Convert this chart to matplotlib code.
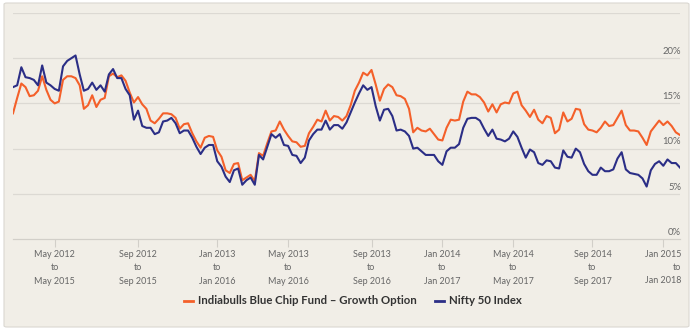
import matplotlib.pyplot as plt
from matplotlib.patches import FancyBboxPatch
from matplotlib.lines import Line2D

plt.rcParams["font.family"] = ["Lato", "DejaVu Sans"]

# rolling 3-year returns (%), one point per step along the axis
fund = [
    13.9, 15.6, 17.2, 16.8, 15.8, 15.9, 16.4, 18.0, 16.5, 15.4,
    15.0, 15.2, 17.6, 18.0, 18.0, 17.8, 17.0, 14.4, 14.8, 15.9,
    14.6, 15.4, 15.6, 18.0, 18.3, 17.9, 18.1, 17.5, 16.2, 15.1,
    15.7, 14.9, 14.4, 13.1, 12.8, 13.3, 13.9, 13.9, 13.8, 13.4,
    12.2, 12.7, 12.8, 11.7, 10.8, 10.1, 11.2, 11.4, 11.3, 9.8,
    9.1, 7.6, 7.3, 8.3, 8.4, 6.5, 6.8, 7.1, 6.4, 9.5,
    9.2, 10.6, 11.9, 12.0, 13.0, 12.1, 11.4, 10.8, 10.7, 10.2,
    10.3, 11.7, 12.4, 13.2, 13.0, 14.2, 13.1, 13.6, 13.5, 13.1,
    13.6, 14.8, 16.4, 17.3, 18.4, 18.1, 18.7, 17.1, 15.3, 16.6,
    17.1, 16.8, 15.9, 15.8, 15.5, 14.4, 11.8, 12.3, 12.0, 11.9,
    12.2, 11.6, 11.0, 10.9, 12.3, 13.2, 13.1, 13.2, 15.2, 16.3,
    16.0, 16.0, 15.7, 15.1, 14.1, 14.9, 14.0, 14.9, 15.1, 15.0,
    16.1, 16.3, 14.8, 14.2, 13.5, 14.3, 13.2, 12.8, 13.6, 13.4,
    11.7, 12.1, 14.0, 13.0, 13.3, 14.4, 14.3, 12.7, 12.1, 12.0,
    11.8, 12.3, 13.0, 12.5, 12.6, 13.4, 14.2, 12.6, 12.0, 12.0,
    11.9, 11.2, 10.4, 11.9, 12.5, 13.1, 12.6, 13.0, 12.5, 11.8,
    11.5,
]
nifty = [
    16.8, 17.0, 19.0, 17.9, 17.8, 17.6, 17.0, 19.2, 17.3, 17.0,
    16.6, 16.4, 19.1, 19.7, 20.0, 20.3, 18.2, 16.4, 16.6, 17.3,
    16.5, 17.0, 16.3, 18.2, 18.8, 17.8, 17.8, 16.6, 15.9, 13.2,
    14.2, 12.5, 12.3, 12.3, 11.6, 11.8, 13.0, 13.1, 13.4, 12.8,
    11.7, 12.0, 12.0, 11.2, 10.2, 9.4, 10.1, 10.4, 10.4, 8.6,
    8.0, 6.9, 6.3, 7.6, 7.8, 6.0, 6.5, 6.8, 6.0, 9.3,
    8.8, 10.2, 11.6, 11.2, 11.6, 10.4, 10.3, 9.3, 9.2, 8.4,
    9.0, 10.9, 11.6, 12.1, 12.1, 13.1, 12.1, 12.6, 12.6, 12.2,
    12.9, 14.0, 15.1, 16.1, 17.0, 16.5, 16.8, 14.7, 13.1, 14.3,
    14.4, 13.6, 12.0, 12.1, 11.9, 11.4, 10.0, 10.1, 9.7, 9.3,
    9.3, 9.3, 8.6, 8.2, 9.7, 10.1, 10.1, 10.5, 12.3, 13.3,
    13.4, 13.4, 13.1, 12.2, 11.4, 12.1, 11.1, 11.0, 10.8, 11.1,
    11.9, 11.3, 10.1, 9.0, 9.9, 9.6, 8.4, 8.2, 8.7, 8.6,
    7.9, 7.8, 9.8, 9.1, 9.0, 10.0, 9.6, 8.3, 7.5, 7.1,
    7.1, 7.9, 7.5, 7.5, 7.7, 8.9, 9.6, 7.7, 7.3, 7.2,
    7.1, 6.7, 5.8, 7.6, 8.3, 8.6, 8.1, 8.8, 8.4, 8.4,
    7.9,
]

tick_pos = [10, 30, 49, 66, 86, 103, 120, 139, 156]
period_start = ["May 2012", "Sep 2012", "Jan 2013", "May 2013", "Sep 2013",
                "Jan 2014", "May 2014", "Sep 2014", "Jan 2015"]
period_end = ["May 2015", "Sep 2015", "Jan 2016", "May 2016", "Sep 2016",
              "Jan 2017", "May 2017", "Sep 2017", "Jan 2018"]
y_ticks = [0, 5, 10, 15, 20]

fund_name = "Indiabulls Blue Chip Fund \u2013 Growth Option"
index_name = "Nifty 50 Index"
orange = "#f4602a"
navy = "#2b2e86"
bg = "#f1eee7"
label_grey = "#666666"

W, H = 695, 332
fig = plt.figure(figsize=(W / 100, H / 100), dpi=100, facecolor="white")

# panel behind the chart
panel = FancyBboxPatch((4 / W, 1 - 327 / H), 685 / W, 324 / H,
                       boxstyle="round,pad=0,rounding_size=0.004",
                       transform=fig.transFigure, facecolor=bg,
                       edgecolor="#dad7d1", linewidth=0.8, zorder=-5)
fig.patches.append(panel)

ax = fig.add_axes([13 / W, 1 - 239 / H, 667 / W, 226 / H])
ax.set_facecolor("none")
x = list(range(len(fund)))
ax.plot(x, fund, color=orange, lw=1.5, zorder=3)
ax.plot(x, nifty, color=navy, lw=1.5, zorder=4)

ax.set_xlim(0, len(fund) - 1)
ax.set_ylim(0, 25)
for v in [5, 10, 15, 20, 25]:
    ax.axhline(v, color="#dcd9d3", lw=0.9, zorder=1)
for s in ["top", "right", "left"]:
    ax.spines[s].set_visible(False)
ax.spines["bottom"].set_color("#d2cfc9")
ax.spines["bottom"].set_linewidth(0.9)

ax.set_yticks([])
for v in y_ticks:
    ax.text(1.0015, v + 0.25, f"{v}%", transform=ax.get_yaxis_transform(),
            ha="right", va="bottom", fontsize=6.8, color=label_grey, zorder=5)

# period labels under the ticks; the last one is pushed left to fit
labels = [f"{a}\nto\n{b}" for a, b in zip(period_start, period_end)]
ax.set_xticks(tick_pos)
ax.set_xticklabels(labels[:-1] + [""], fontsize=6.5, color=label_grey,
                   linespacing=1.6)
ax.tick_params(axis="x", length=6, width=0.8, color="#d2cfc9", pad=2)
ax.annotate(labels[-1], xy=(tick_pos[-1], 0), xycoords=("data", "axes fraction"),
            xytext=(18, -11), textcoords="offset pixels", ha="right", va="top",
            multialignment="right", fontsize=6.5, color=label_grey,
            linespacing=1.6)

handles = [Line2D([], [], color=orange, lw=2),
           Line2D([], [], color=navy, lw=2)]
fig.legend(handles, [fund_name, index_name], loc="center",
           bbox_to_anchor=(353 / W, 1 - 301 / H), ncol=2, frameon=False,
           handlelength=0.8, handletextpad=0.45, columnspacing=1.6,
           prop={"weight": "bold", "size": 8.2}, labelcolor="#333333")

fig.savefig("out.png", dpi=100, facecolor="white")
